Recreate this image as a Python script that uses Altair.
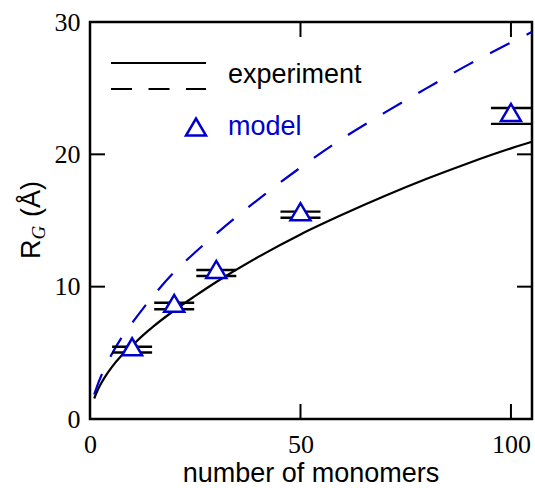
import altair as alt
import pandas as pd

# ---- data ----
exp_x = [1, 2, 3.5, 5, 7.5, 10, 12.5, 15, 20, 25, 30, 40, 50, 60, 70, 80, 90, 100, 105]
exp_y = [1.55, 2.3, 3.15, 3.85, 4.8, 5.55, 6.3, 6.98, 8.2, 9.3, 10.35, 12.25, 13.95, 15.45, 16.85, 18.15, 19.35, 20.45, 20.95]

mod_x = [1, 2, 3.5, 5, 7.5, 10, 15, 20, 25, 30, 40, 50, 60, 70, 80, 90, 100, 105]
mod_y = [1.85, 2.75, 3.85, 4.8, 6.15, 7.25, 9.3, 11.1, 12.6, 14.0, 16.6, 19.0, 21.2, 23.15, 25.0, 26.8, 28.45, 29.25]

pt_x = [10, 20, 30, 50, 100]
pt_y = [5.46, 8.74, 11.3, 15.67, 23.17]
bar_hi = [5.46, 8.79, 11.26, 15.67, 23.5]
bar_lo = [5.02, 8.29, 10.81, 15.21, 22.3]

x_ticks = [0, 50, 100]
y_ticks = [0, 10, 20, 30]
x_inner_ticks = [50, 100]
y_inner_ticks = [10, 20]

BLUE = "#0000cd"
W, H = 442, 397
SANS = "Liberation Sans"
SERIF = "Liberation Serif"

xs = alt.Scale(domain=[0, 105], nice=False, zero=False)
ys = alt.Scale(domain=[0, 30], nice=False, zero=False)

exp_df = pd.DataFrame({"x": exp_x, "y": exp_y})
mod_df = pd.DataFrame({"x": mod_x, "y": mod_y})
pt_df = pd.DataFrame({"x": pt_x, "y": pt_y})
bar_df = pd.DataFrame({"x": pt_x + pt_x, "y": bar_hi + bar_lo})
xt_df = pd.DataFrame({"x": x_inner_ticks})
yt_df = pd.DataFrame({"y": y_inner_ticks})
dummy = pd.DataFrame({"a": [0]})

x_axis = alt.Axis(values=x_ticks, title=None, ticks=False, domain=False, grid=False,
                  labelFont=SERIF, labelFontSize=26, labelColor="black",
                  labelPadding=12, labelFlush=False, labelOverlap=False)
y_axis = alt.Axis(values=y_ticks, title=None, ticks=False, domain=False, grid=False,
                  labelFont=SERIF, labelFontSize=26, labelColor="black",
                  labelPadding=10, labelFlush=False, labelOverlap=False)

X = alt.X("x:Q", scale=xs, axis=x_axis)
Y = alt.Y("y:Q", scale=ys, axis=y_axis)

exp_line = alt.Chart(exp_df).mark_line(color="black", strokeWidth=2.2, interpolate="monotone").encode(x=X, y=Y)
mod_line = alt.Chart(mod_df).mark_line(color=BLUE, strokeWidth=2.2, strokeDash=[22, 19],
                                        interpolate="monotone").encode(x=X, y=Y)
bars = alt.Chart(bar_df).mark_tick(orient="horizontal", size=40, thickness=2.4, color="black",
                                    opacity=1).encode(x=X, y=Y)
tri = "M-1,0.85L1,0.85L0,-0.85Z"
points = alt.Chart(pt_df).mark_point(shape=tri, size=400, filled=False, fill="white", fillOpacity=1,
                                      stroke=BLUE, strokeWidth=2.5, opacity=1).encode(x=X, y=Y)

# inward frame ticks
tick_style = dict(color="black", strokeWidth=2)
left_t = alt.Chart(yt_df).mark_rule(**tick_style).encode(y=Y, x=alt.value(0), x2=alt.value(15))
right_t = alt.Chart(yt_df).mark_rule(**tick_style).encode(y=Y, x=alt.value(W - 15), x2=alt.value(W))
bot_t = alt.Chart(xt_df).mark_rule(**tick_style).encode(x=X, y=alt.value(H - 15), y2=alt.value(H))
top_t = alt.Chart(xt_df).mark_rule(**tick_style).encode(x=X, y=alt.value(0), y2=alt.value(15))

# legend
leg_solid = alt.Chart(dummy).mark_rule(color="black", strokeWidth=2.2).encode(
    x=alt.value(21), x2=alt.value(116), y=alt.value(41))
leg_dash = alt.Chart(dummy).mark_rule(color="black", strokeWidth=2.2, strokeDash=[21, 16.5]).encode(
    x=alt.value(21), x2=alt.value(116), y=alt.value(67))
leg_exp = alt.Chart(dummy).mark_text(text="experiment", font=SANS, fontSize=27, align="left",
                                      baseline="alphabetic", color="black").encode(
    x=alt.value(138), y=alt.value(61))
leg_tri = alt.Chart(dummy).mark_point(shape=tri, size=400, filled=False, fill="white", fillOpacity=1,
                                       stroke=BLUE, strokeWidth=2.5, opacity=1).encode(
    x=alt.value(106), y=alt.value(105))
leg_mod = alt.Chart(dummy).mark_text(text="model", font=SANS, fontSize=27, align="left",
                                      baseline="alphabetic", color=BLUE).encode(
    x=alt.value(138), y=alt.value(113))

# axis titles
x_title = alt.Chart(dummy).mark_text(text="number of monomers", font=SANS, fontSize=27, align="center",
                                      baseline="alphabetic", color="black").encode(
    x=alt.value(W / 2), y=alt.value(460))
y_R = alt.Chart(dummy).mark_text(text="R", font=SANS, fontSize=27, angle=270, align="left",
                                  baseline="alphabetic", color="black").encode(
    x=alt.value(-50), y=alt.value(237))
y_G = alt.Chart(dummy).mark_text(text="G", font=SERIF, fontSize=19, fontStyle="italic", angle=270,
                                  align="left", baseline="alphabetic", color="black").encode(
    x=alt.value(-45), y=alt.value(217.5))
y_A = alt.Chart(dummy).mark_text(text="(Å)", font=SANS, fontSize=27, angle=270, align="left",
                                  baseline="alphabetic", color="black").encode(
    x=alt.value(-50), y=alt.value(195))

chart = alt.layer(
    exp_line, mod_line, bars, points,
    left_t, right_t, bot_t, top_t,
    leg_solid, leg_dash, leg_exp, leg_tri, leg_mod,
    x_title, y_R, y_G, y_A,
).properties(
    width=W, height=H,
    padding={"left": 90, "top": 22, "right": 3, "bottom": 69},
    autosize=alt.AutoSizeParams(type="none"),
    background="white",
).configure_view(
    stroke="black", strokeWidth=2.5
)

chart.save("out.html", embed_options={"renderer": "svg", "actions": False})
